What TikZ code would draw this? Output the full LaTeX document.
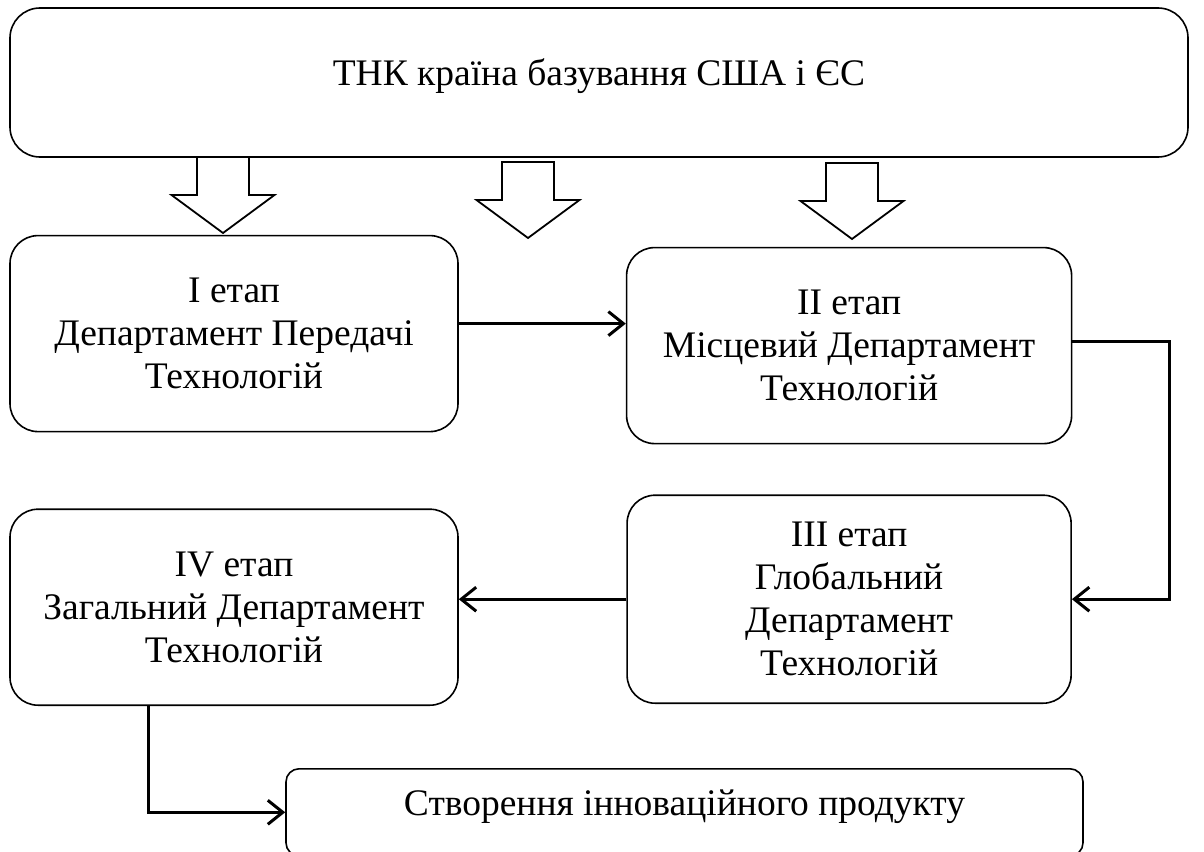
\documentclass[tikz,border=0pt]{standalone}
\usepackage{fontspec}
\setmainfont{Liberation Serif}
\usetikzlibrary{positioning, arrows.meta}

\begin{document}
\begin{tikzpicture}[
        x=1pt, y=-1pt,
        box/.style={rectangle, draw, line width=1.6pt, rounded corners=28pt,
                    minimum width=448pt, minimum height=196pt, align=center,
                    inner sep=0pt, font=\fontsize{37.5}{43}\selectfont},
        oneline/.style={text height=28pt, text depth=22pt},
        arrow/.style={-{Straight Barb[length=15pt, width=24pt]}, line width=3pt},
        hollow/.style={draw, line width=1.8pt, fill=white}
    ]
    \useasboundingbox (0,0) rectangle (1204,851);

    %% HEADER
    \node[box, oneline, minimum width=1178pt, minimum height=149pt,
          rounded corners=30pt]
          (tnc) at (599,82.5) {ТНК країна базування США і ЄС};

    %% STAGES
    \node[box, below right=77pt and 0pt of tnc.south west, anchor=north west]
          (stage1) {I етап\\Департамент Передачі\\Технологій};
    \node[box, minimum width=445pt, below right=12pt and 167pt of stage1.north east,
          anchor=north west]
          (stage2) {II етап\\Місцевий Департамент\\Технологій};
    \node[box, minimum width=444pt, minimum height=208pt, below=50pt of stage2]
          (stage3) {III етап\\Глобальний\\Департамент\\Технологій};
    \node[box, below=76pt of stage1]
          (stage4) {IV етап\\Загальний Департамент\\Технологій};

    %% RESULT
    \node[box, oneline, minimum width=797pt, minimum height=87pt, rounded corners=13pt,
          below right=62pt and 276pt of stage4.south west, anchor=north west]
          (result) {Створення інноваційного продукту};

    %% block arrows under the header
    \foreach \cx/\ty in {223/157, 528/162, 852/163}
        \draw[hollow] (\cx-26,\ty) -- ++(52,0) -- ++(0,38) -- ++(25.5,0)
                      -- (\cx,\ty+76) -- (\cx-51.5,\ty+38) -- ++(25.5,0) -- cycle;

    %% connectors
    \coordinate (a12) at ([yshift=10pt]stage1.east);
    \draw[arrow] (a12) -- (a12 -| stage2.west);
    \draw[arrow] ([yshift=4pt]stage2.east) -- ++(97,0) |- (stage3.east);
    \draw[arrow] (stage3.west) -- (stage3.west -| stage4.east);
    \draw[arrow] ([xshift=-86pt]stage4.south) |- (result.west);

\end{tikzpicture}
\end{document}
